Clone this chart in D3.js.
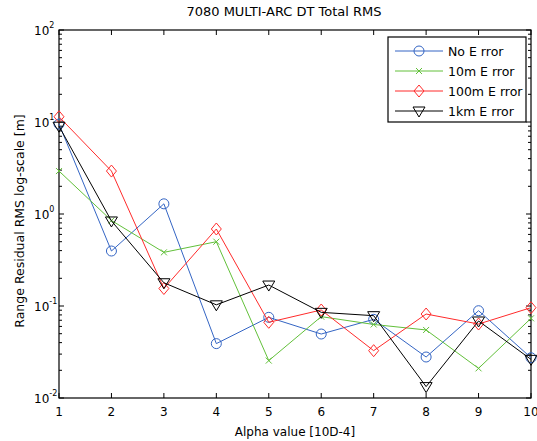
<!DOCTYPE html>
<html>
<head>
<meta charset="utf-8">
<script src="https://cdnjs.cloudflare.com/ajax/libs/d3/7.8.5/d3.min.js"></script>
<style>
  body { margin: 0; background: #fff; }
  svg text { font-family: "DejaVu Sans", sans-serif; fill: #000; }
</style>
</head>
<body>
<svg width="537" height="441"></svg>
<script>
var svg = d3.select("svg");

// data
var alpha = [1, 2, 3, 4, 5, 6, 7, 8, 9, 10];
var noError   = [9.5, 0.396, 1.29, 0.039, 0.0753, 0.0496, 0.0716, 0.0279, 0.0889, 0.0274];
var err10m    = [2.93, 0.85, 0.383, 0.50, 0.0255, 0.0766, 0.063, 0.0549, 0.021, 0.0735];
var err100m   = [11.4, 2.93, 0.155, 0.687, 0.0665, 0.0905, 0.0327, 0.0818, 0.0637, 0.0959];
var err1km    = [9.0, 0.84, 0.179, 0.103, 0.169, 0.0853, 0.0785, 0.0133, 0.0687, 0.0263];
var seriesNames = ["No E rror", "10m E rror", "100m E rror", "1km E rror"];
var xTicks = [1, 2, 3, 4, 5, 6, 7, 8, 9, 10];
var yDecades = [-2, -1, 0, 1, 2];

var series = [
  {name: seriesNames[0], values: noError, color: "#3465c4", marker: "circle"},
  {name: seriesNames[1], values: err10m, color: "#62c03a", marker: "x"},
  {name: seriesNames[2], values: err100m, color: "#ff2b2b", marker: "diamond"},
  {name: seriesNames[3], values: err1km, color: "#000000", marker: "triangle"}
];

var plotL = 59, plotR = 531, plotT = 30, plotB = 398;

var x = d3.scaleLinear().domain([1, 10]).range([plotL, plotR]);
var y = d3.scaleLog().domain([0.01, 100]).range([plotB, plotT]);

// minor ticks for the log axis
var minor = [];
yDecades.slice(0, -1).forEach(function(p) {
  for (var k = 2; k <= 9; k++) minor.push(k * Math.pow(10, p));
});

var axes = svg.append("g").attr("class", "axes");

// y ticks, both sides, inward
[plotL, plotR].forEach(function(px, i) {
  var dir = i == 0 ? 1 : -1;
  axes.selectAll(null).data(yDecades).enter().append("line")
    .attr("x1", px).attr("x2", px + dir * 5)
    .attr("y1", function(d) { return y(Math.pow(10, d)); })
    .attr("y2", function(d) { return y(Math.pow(10, d)); })
    .attr("stroke", "#000");
  axes.selectAll(null).data(minor).enter().append("line")
    .attr("x1", px).attr("x2", px + dir * 3)
    .attr("y1", function(d) { return y(d); })
    .attr("y2", function(d) { return y(d); })
    .attr("stroke", "#000");
});

// x ticks, top and bottom
[plotB, plotT].forEach(function(py, i) {
  var dir = i == 0 ? -1 : 1;
  axes.selectAll(null).data(xTicks).enter().append("line")
    .attr("x1", function(d) { return x(d); })
    .attr("x2", function(d) { return x(d); })
    .attr("y1", py).attr("y2", py + dir * 5)
    .attr("stroke", "#000");
});

axes.append("rect")
  .attr("x", plotL).attr("y", plotT)
  .attr("width", plotR - plotL).attr("height", plotB - plotT)
  .attr("fill", "none").attr("stroke", "#000").attr("stroke-width", 1.2);

// tick labels
svg.append("g").selectAll("text").data(xTicks).enter().append("text")
  .attr("x", function(d) { return x(d); })
  .attr("y", 416)
  .attr("text-anchor", "middle")
  .style("font-size", "12px")
  .text(function(d) { return d; });

var yl = svg.append("g").selectAll("text").data(yDecades).enter().append("text")
  .attr("x", 34)
  .attr("y", function(d) { return y(Math.pow(10, d)) + 5; })
  .style("font-size", "12px");
yl.append("tspan").text("10");
yl.append("tspan")
  .attr("dy", -7)
  .style("font-size", "8px")
  .text(function(d) { return d; });

// title and axis labels
svg.append("text")
  .attr("x", (plotL + plotR) / 2 - 11).attr("y", 16)
  .attr("text-anchor", "middle")
  .style("font-size", "13px")
  .text("7080 MULTI-ARC DT Total RMS");

svg.append("text")
  .attr("x", (plotL + plotR) / 2).attr("y", 436)
  .attr("text-anchor", "middle")
  .style("font-size", "12px")
  .text("Alpha value [10D-4]");

svg.append("text")
  .attr("transform", "translate(24,221) rotate(-90)")
  .attr("text-anchor", "middle")
  .style("font-size", "12.5px")
  .text("Range Residual RMS  log-scale [m]");

// markers
function drawMarker(g, type, color, cx, cy) {
  if (type == "circle") {
    g.append("circle").attr("cx", cx).attr("cy", cy).attr("r", 5)
      .attr("fill", "none").attr("stroke", color);
  } else if (type == "x") {
    g.append("path")
      .attr("d", "M" + (cx - 3) + "," + (cy - 3) + "L" + (cx + 3) + "," + (cy + 3) +
                 "M" + (cx - 3) + "," + (cy + 3) + "L" + (cx + 3) + "," + (cy - 3))
      .attr("stroke", color);
  } else if (type == "diamond") {
    g.append("path")
      .attr("d", "M" + cx + "," + (cy - 6) + "L" + (cx + 5) + "," + cy +
                 "L" + cx + "," + (cy + 6) + "L" + (cx - 5) + "," + cy + "Z")
      .attr("fill", "none").attr("stroke", color);
  } else {
    g.append("path")
      .attr("d", "M" + (cx - 6) + "," + (cy - 4) + "L" + (cx + 6) + "," + (cy - 4) +
                 "L" + cx + "," + (cy + 6) + "Z")
      .attr("fill", "none").attr("stroke", color);
  }
}

var line = d3.line()
  .x(function(d, i) { return x(alpha[i]); })
  .y(function(d) { return y(d); });

var plot = svg.append("g").attr("class", "series");
series.forEach(function(s) {
  var g = plot.append("g");
  g.append("path")
    .attr("d", line(s.values))
    .attr("fill", "none")
    .attr("stroke", s.color)
    .attr("stroke-width", 1);
  s.values.forEach(function(v, i) {
    drawMarker(g, s.marker, s.color, x(alpha[i]), y(v));
  });
});

// legend
var legend = svg.append("g").attr("class", "legend");
legend.append("rect")
  .attr("x", 388).attr("y", 37).attr("width", 138).attr("height", 85)
  .attr("fill", "#fff").attr("stroke", "#000").attr("stroke-width", 1.2);

series.forEach(function(s, i) {
  var ly = 51 + i * 20;
  var g = legend.append("g");
  g.append("line")
    .attr("x1", 395).attr("x2", 443)
    .attr("y1", ly).attr("y2", ly)
    .attr("stroke", s.color);
  drawMarker(g, s.marker, s.color, 419, ly);
  g.append("text")
    .attr("x", 448).attr("y", ly + 5)
    .style("font-size", "12.5px")
    .text(s.name);
});
</script>
</body>
</html>
